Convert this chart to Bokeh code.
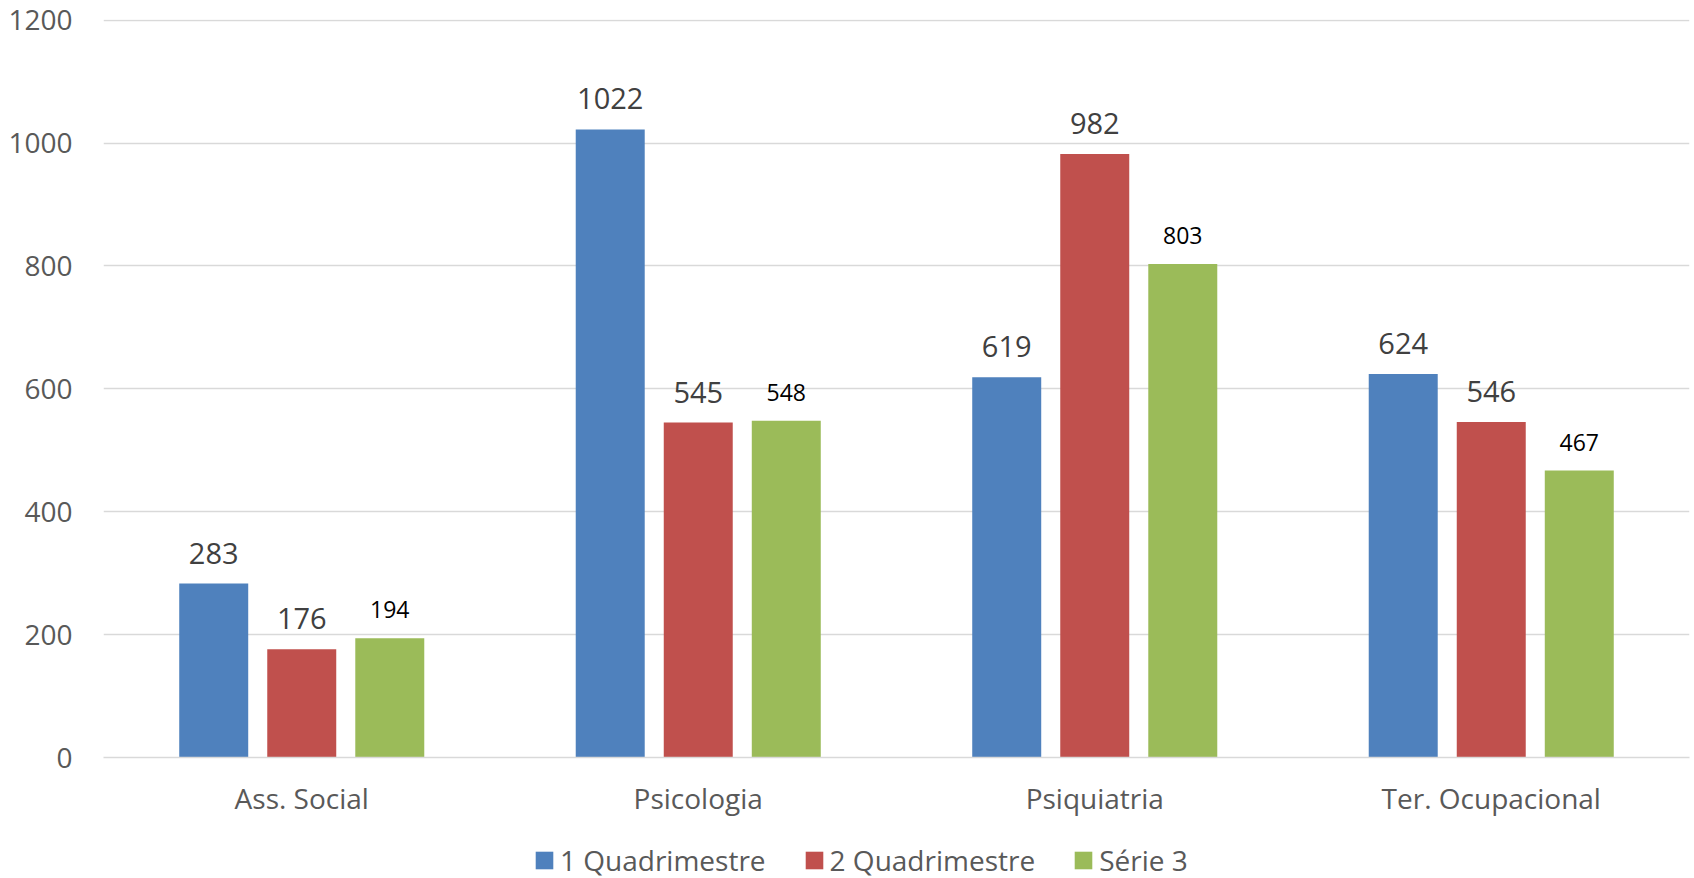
from bokeh.plotting import figure
from bokeh.models import ColumnDataSource, FactorRange, LabelSet, Legend, LegendItem, FixedTicker, Range1d
from bokeh.layouts import column
from bokeh.transform import dodge
from bokeh.core.properties import value
from bokeh.embed import file_html
from bokeh.resources import INLINE

categories = ["Ass. Social", "Psicologia", "Psiquiatria", "Ter. Ocupacional"]
series_names = ["1 Quadrimestre", "2 Quadrimestre", "Série 3"]
q1 = [283, 1022, 619, 624]
q2 = [176, 545, 982, 546]
s3 = [194, 548, 803, 467]
y_ticks = [0, 200, 400, 600, 800, 1000, 1200]

colors = ["#4f81bd", "#c0504d", "#9bbb59"]
label_colors = ["#404040", "#404040", "#000000"]
label_sizes = ["29px", "29px", "23px"]
FONT = "Open Sans"

src = ColumnDataSource(dict(
    cat=categories, q1=q1, q2=q2, s3=s3,
    q1t=[str(v) for v in q1], q2t=[str(v) for v in q2], s3t=[str(v) for v in s3],
))

p = figure(
    x_range=FactorRange(factors=categories, range_padding=0),
    y_range=Range1d(0, 1201),
    width=1694, height=830,
    output_backend="svg", toolbar_location=None,
    min_border_left=103, min_border_right=5, min_border_top=19, min_border_bottom=73,
)
p.outline_line_color = None

offsets = [-0.222, 0.0, 0.222]
cols = ["q1", "q2", "s3"]
for i, (c, off) in enumerate(zip(cols, offsets)):
    p.vbar(x=dodge("cat", off, range=p.x_range), top=c, width=0.174, bottom=0,
           source=src, fill_color=colors[i], line_color=None)
    lbl = LabelSet(x=dodge("cat", off, range=p.x_range), y=c, text=c + "t", source=src,
                   text_align="center", text_baseline="alphabetic", y_offset=20,
                   text_font=value(FONT), text_font_size=label_sizes[i],
                   text_color=label_colors[i])
    p.add_layout(lbl)

# y axis
p.yaxis.ticker = FixedTicker(ticks=y_ticks)
p.yaxis.axis_line_color = None
p.yaxis.major_tick_line_color = None
p.yaxis.minor_tick_line_color = None
p.yaxis.major_tick_out = 0
p.yaxis.major_label_standoff = 31
p.yaxis.major_label_text_font = FONT
p.yaxis.major_label_text_font_size = "28px"
p.yaxis.major_label_text_color = "#595959"

# x axis
p.xaxis.axis_line_color = "#d9d9d9"
p.xaxis.axis_line_width = 1.5
p.xaxis.major_tick_line_color = None
p.xaxis.major_tick_out = 0
p.xaxis.major_label_standoff = 21
p.xaxis.major_label_text_font = FONT
p.xaxis.major_label_text_font_size = "28px"
p.xaxis.major_label_text_color = "#595959"

p.xgrid.grid_line_color = None
p.ygrid.grid_line_color = "#d9d9d9"
p.ygrid.grid_line_width = 1.5

# legend strip below the chart (swatch renderers sit outside the visible range)
lg = figure(width=1694, height=48, x_range=Range1d(0, 1), y_range=Range1d(0, 1),
            output_backend="svg", toolbar_location=None,
            min_border_left=0, min_border_right=0, min_border_top=0, min_border_bottom=0)
lg.axis.visible = False
lg.grid.visible = False
lg.outline_line_color = None
swatch = ColumnDataSource(dict(x=[-5], top=[0]))
items = []
for i, name in enumerate(series_names):
    r = lg.vbar(x="x", top="top", width=0.1, source=swatch, fill_color=colors[i], line_color=None)
    items.append(LegendItem(label=name, renderers=[r]))
legend = Legend(items=items, orientation="horizontal", location=(430, -1),
                label_text_font=FONT, label_text_font_size="28px",
                label_text_color="#595959", glyph_width=22, glyph_height=22,
                label_standoff=5, spacing=37, border_line_color=None,
                background_fill_alpha=0, padding=0, margin=0)
lg.add_layout(legend, "center")

layout = column(p, lg, spacing=0)
open("out.html", "w").write(file_html(layout, INLINE))
